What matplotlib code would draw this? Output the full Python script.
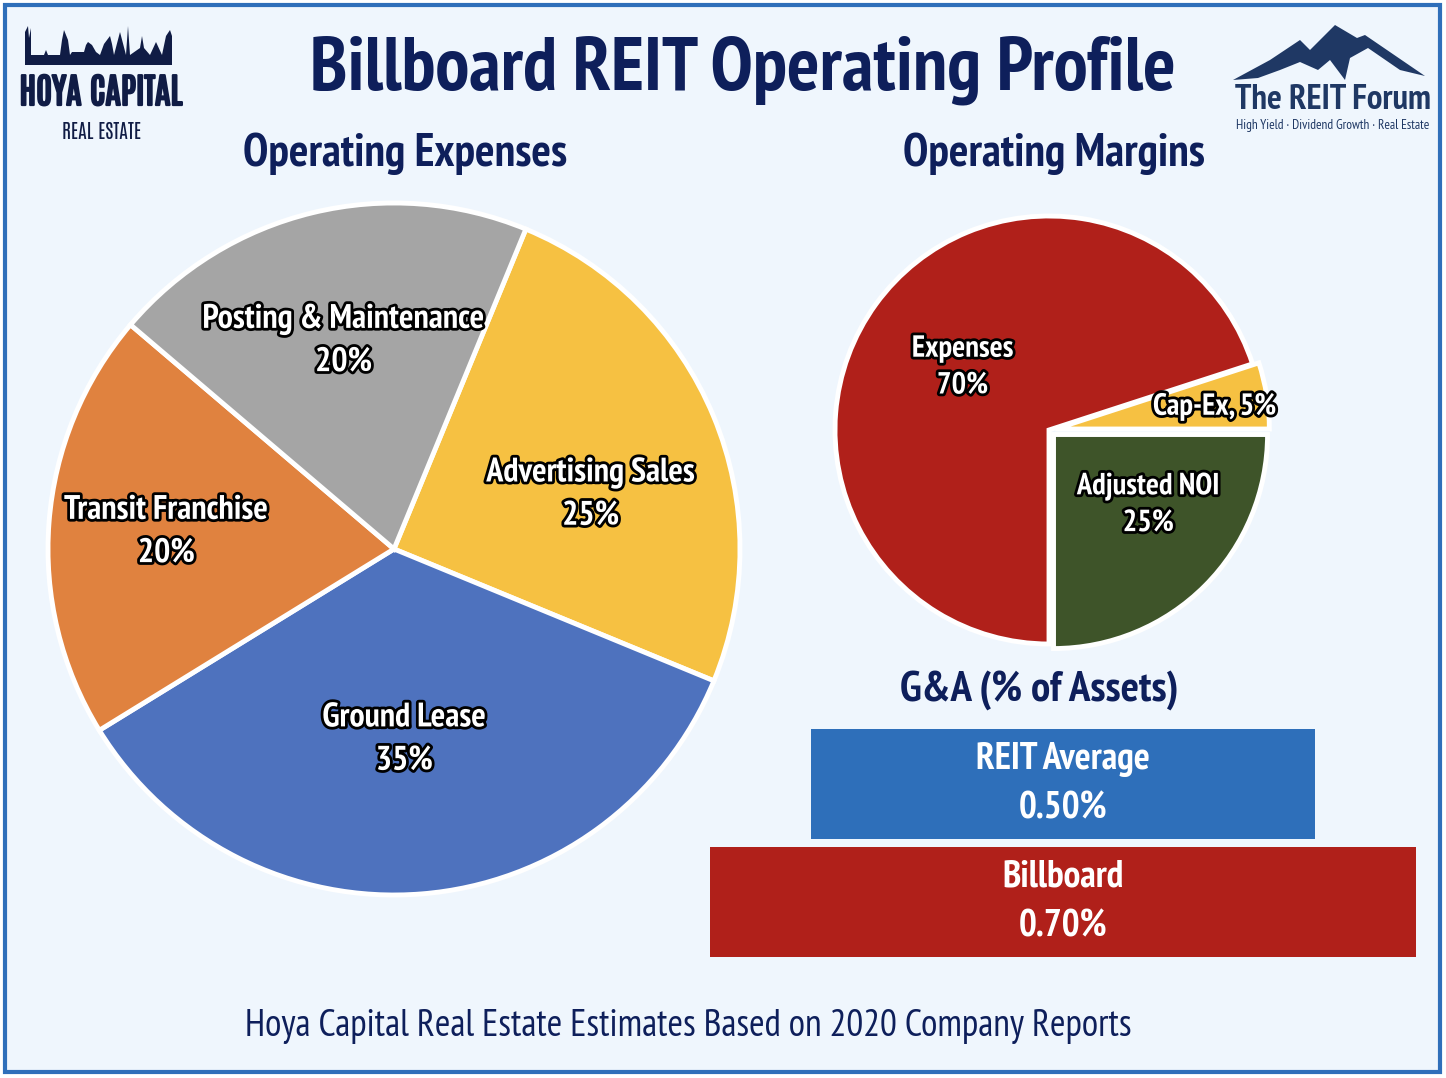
import numpy as np
import matplotlib
matplotlib.use('Agg')
import matplotlib.pyplot as plt
import matplotlib.patheffects as pe
from matplotlib.patches import Rectangle, Polygon

# Données
exp_labels = ['Advertising Sales', 'Ground Lease', 'Transit Franchise', 'Posting & Maintenance']
exp_values = [25, 35, 20, 20]
exp_colors = ['#F6C142', '#4E72BE', '#E0823F', '#A5A5A5']

margin_labels = ['Cap-Ex', 'Adjusted NOI', 'Expenses']
margin_values = [5, 25, 70]
margin_colors = ['#F6C142', '#3E5429', '#B0201A']

ga_labels = ['REIT Average', 'Billboard']
ga_values = [0.50, 0.70]
ga_colors = ['#2E6FBA', '#B0201A']

NAVY = '#0E1F5B'
W, H = 1446, 1078
FONT = ['PT Sans Narrow', 'DejaVu Sans']
LOGO = ['Antonio', 'PT Sans Narrow', 'DejaVu Sans']


def fx(x):
    return x / W


def fy(y):
    return 1 - y / H


plt.rcParams['font.family'] = FONT
fig = plt.figure(figsize=(W / 100, H / 100), dpi=100, facecolor='white')

# Cadre
fig.add_artist(Rectangle((fx(5), fy(1072)), 1435 / W, 1067 / H, transform=fig.transFigure,
                         facecolor='#EFF6FD', edgecolor='#2F6FBA', lw=3, zorder=0))

outline = [pe.withStroke(linewidth=4, foreground='black')]


def pie_axes(cx, cy, r, pad=1.15):
    ax = fig.add_axes([fx(cx - r * pad), fy(cy + r * pad), 2 * r * pad / W, 2 * r * pad / H])
    return ax, pad


# Camembert gauche : charges d'exploitation
ax1, pad = pie_axes(394, 549, 346)
wedges, _ = ax1.pie(exp_values, colors=exp_colors, startangle=67.6, counterclock=False,
                    wedgeprops=dict(edgecolor='white', linewidth=3.5))
ax1.set_xlim(-pad, pad)
ax1.set_ylim(-pad, pad)
ax1.set_aspect('equal')
dist = [0.59, 0.55, 0.66, 0.62]
shift = [-7, -1.5, 0, 0]
for w, lab, v, d, s in zip(wedges, exp_labels, exp_values, dist, shift):
    mid = np.deg2rad((w.theta1 + w.theta2) / 2 + s)
    ax1.text(d * np.cos(mid), d * np.sin(mid), f'{lab}\n{v}%', ha='center', va='center',
             color='white', fontsize=24.5, fontweight='bold', linespacing=1.45,
             path_effects=outline)

# Camembert droit : marges
ax2, pad = pie_axes(1049, 430, 214)
wedges, _ = ax2.pie(margin_values, colors=margin_colors, startangle=18, counterclock=False,
                    explode=[0.03, 0.03, 0], wedgeprops=dict(edgecolor='white', linewidth=3.5))
ax2.set_xlim(-pad, pad)
ax2.set_ylim(-pad, pad)
ax2.set_aspect('equal')
texts = [f'{margin_labels[0]}, {margin_values[0]}%',
         f'{margin_labels[1]}\n{margin_values[1]}%',
         f'{margin_labels[2]}\n{margin_values[2]}%']
dist = [0.78, 0.58, 0.5]
shift = [-1, 8, 0]
for w, t, d, s in zip(wedges, texts, dist, shift):
    mid = np.deg2rad((w.theta1 + w.theta2) / 2 + s)
    ax2.text(d * np.cos(mid), d * np.sin(mid), t, ha='center', va='center',
             color='white', fontsize=22, fontweight='bold', linespacing=1.4,
             path_effects=outline)

# G&A barres
ax3 = fig.add_axes([fx(710), fy(957), 706 / W, 228 / H])
ypos = np.arange(len(ga_values))
ax3.barh(ypos, ga_values, left=-np.array(ga_values) / 2, height=0.932, color=ga_colors)
ax3.set_xlim(-0.35, 0.35)
ax3.set_ylim(1.466, -0.466)
ax3.axis('off')
for i, (lab, v) in enumerate(zip(ga_labels, ga_values)):
    ax3.text(0, i, f'{lab}\n{v:.2f}%', ha='center', va='center', color='white',
             fontsize=27, fontweight='bold', linespacing=1.55)

# Titres
fig.text(fx(743), fy(70), 'Billboard REIT Operating Profile', ha='center', va='center',
         fontsize=55, fontweight='bold', color=NAVY)
fig.text(fx(405), fy(154), 'Operating Expenses', ha='center', va='center',
         fontsize=33, fontweight='bold', color=NAVY)
fig.text(fx(1054), fy(154), 'Operating Margins', ha='center', va='center',
         fontsize=33, fontweight='bold', color=NAVY)
fig.text(fx(1039), fy(690), 'G&A (% of Assets)', ha='center', va='center',
         fontsize=31, fontweight='bold', color=NAVY)
fig.text(fx(688), fy(1027), 'Hoya Capital Real Estate Estimates Based on 2020 Company Reports',
         ha='center', va='center', fontsize=27, color=NAVY)

# Logo Hoya Capital
sky_x = [25, 25, 28, 29, 31, 31, 44, 46, 48, 60, 62, 64, 68, 70, 72, 84, 86, 88, 92, 96, 100,
         104, 110, 112, 114, 120, 126, 128, 130, 140, 142, 144, 150, 156, 162, 166, 170, 172, 172]
sky_y = [65, 32, 26, 38, 28, 55, 55, 50, 55, 55, 40, 30, 40, 55, 52, 52, 45, 42, 45, 52, 55,
         44, 36, 44, 55, 32, 55, 26, 55, 48, 36, 48, 55, 42, 55, 36, 30, 36, 65]
fig.add_artist(Polygon([(fx(x), fy(y)) for x, y in zip(sky_x, sky_y)], closed=True,
                       transform=fig.transFigure, facecolor='#101C45', edgecolor='none'))
thick = [pe.withStroke(linewidth=1.6, foreground='#101C45')]
fig.text(fx(101), fy(92), 'HOYA CAPITAL', ha='center', va='center', fontsize=25,
         family=LOGO, color='#101C45', path_effects=thick)
fig.text(fx(102), fy(131), 'REAL ESTATE', ha='center', va='center', fontsize=14,
         family=LOGO, color='#101C45')

# Logo The REIT Forum
mx = [1233, 1270, 1300, 1310, 1335, 1357, 1365, 1425, 1400, 1368, 1350, 1345, 1330, 1318,
      1300, 1280, 1258]
my = [80, 60, 40, 50, 25, 38, 35, 76, 70, 48, 58, 80, 60, 70, 62, 70, 78]
fig.add_artist(Polygon([(fx(x), fy(y)) for x, y in zip(mx, my)], closed=True,
                       transform=fig.transFigure, facecolor='#1F3864', edgecolor='none'))
fig.text(fx(1333), fy(100), 'The REIT Forum', ha='center', va='center', fontsize=25,
         fontweight='bold', color='#1F3864')
fig.text(fx(1333), fy(126), 'High Yield · Dividend Growth · Real Estate', ha='center',
         va='center', fontsize=9.6, color='#1F3864')

fig.savefig('out.png', dpi=100, facecolor=fig.get_facecolor())
